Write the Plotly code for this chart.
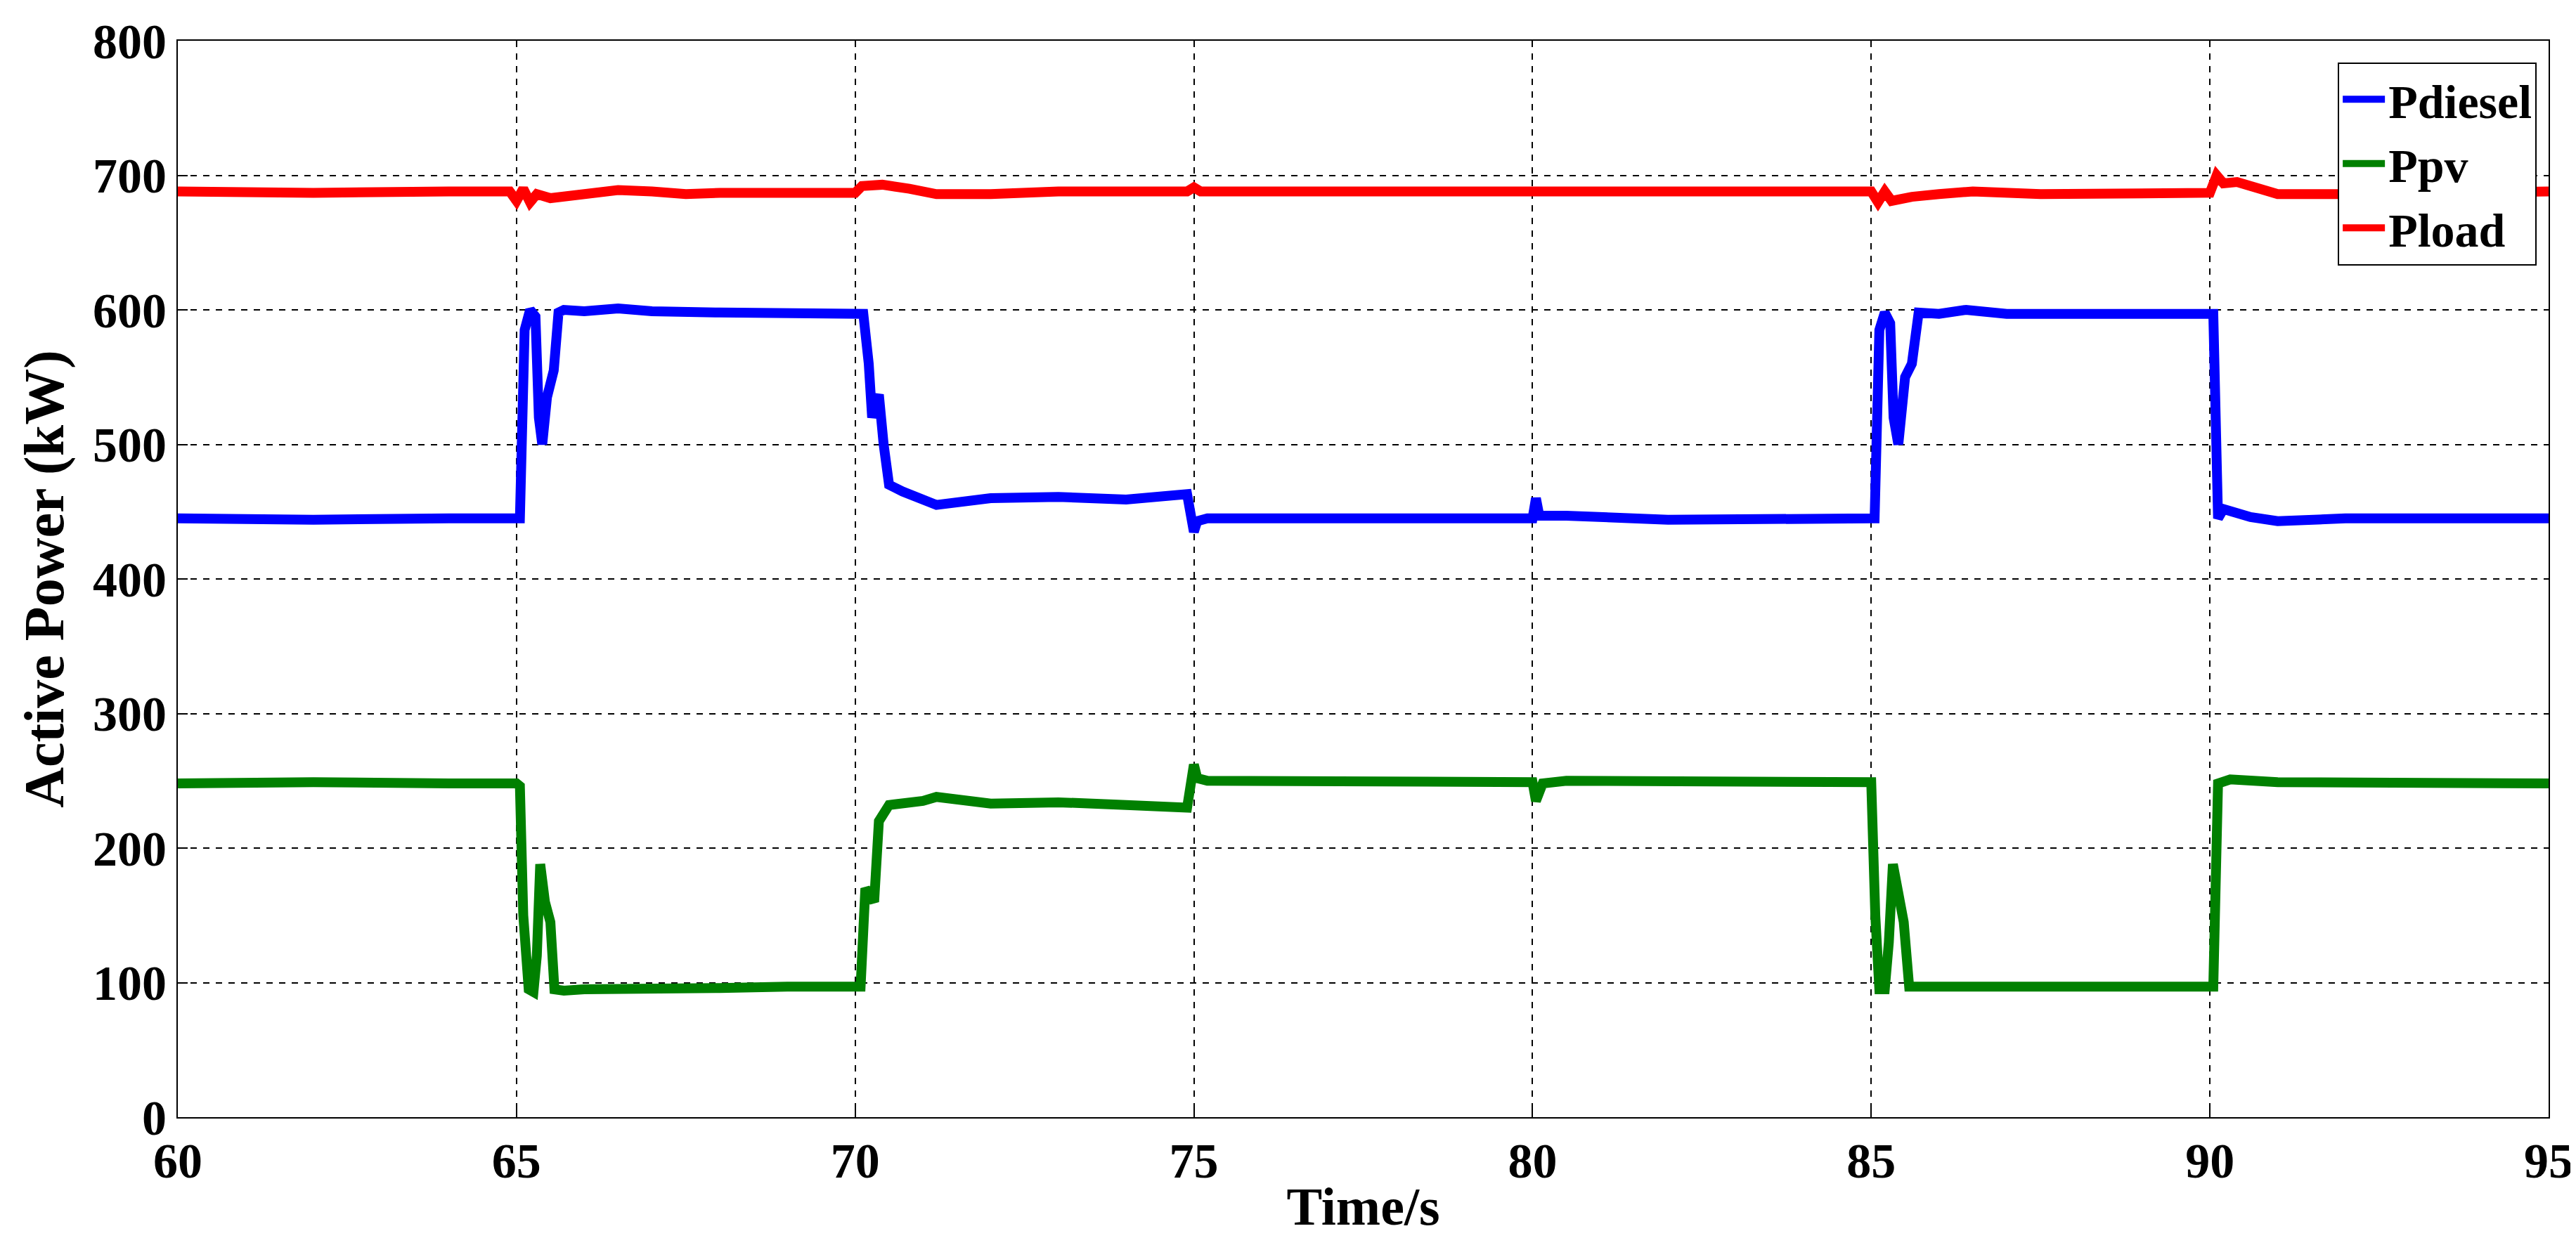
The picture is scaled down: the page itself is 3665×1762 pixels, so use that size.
import plotly.graph_objects as go

# (time in s, power in kW)
t_load = [60, 62, 64, 64.9, 65.0, 65.1, 65.2, 65.3, 65.5, 66.0, 66.5, 67.0, 67.5, 68.0, 70.0,
          70.1, 70.4, 70.8, 71.2, 72.0, 73.0, 74.9, 75.0, 75.1, 78.0, 80.0, 82.0, 85.0,
          85.1, 85.2, 85.3, 85.6, 86.0, 86.5, 87.5, 88.0, 90.0, 90.1, 90.2, 90.4, 90.7,
          91.0, 92.0, 95.0]
p_load = [688, 687, 688, 688, 681, 690, 680, 686, 683, 686, 689, 688, 686, 687, 687,
          692, 693, 690, 686, 686, 688, 688, 691, 688, 688, 688, 688, 688,
          680, 688, 681, 684, 686, 688, 686, 686, 687, 700, 694, 695, 691,
          686, 686, 688]

t_diesel = [60, 62, 64, 65.0, 65.05, 65.12, 65.2, 65.28, 65.33, 65.38, 65.45, 65.55, 65.62,
            65.7, 66.0, 66.5, 67.0, 68.0, 69.0, 70.05, 70.12, 70.2, 70.25, 70.3, 70.35,
            70.42, 70.5, 70.7, 71.0, 71.2, 72.0, 73.0, 74.0, 74.9, 75.0, 75.05, 75.2,
            77.0, 80.0, 80.05, 80.1, 80.5, 82.0, 85.0, 85.05, 85.12, 85.2, 85.28, 85.33,
            85.4, 85.5, 85.6, 85.7, 86.0, 86.4, 87.0, 88.0, 90.0, 90.05, 90.12, 90.2,
            90.6, 91.0, 92.0, 95.0]
p_diesel = [445, 444, 445, 445, 445, 585, 600, 595, 520, 500, 535, 555, 598,
            600, 599, 601, 599, 598, 598, 597, 597, 560, 520, 530, 537,
            500, 470, 465, 460, 455, 460, 461, 459, 463, 435, 443, 445,
            445, 445, 460, 447, 447, 444, 445, 445, 585, 598, 590, 520,
            500, 550, 560, 598, 597, 600, 597, 597, 597, 597, 445, 452,
            446, 443, 445, 445]

t_pv = [60, 62, 64, 65.0, 65.05, 65.1, 65.18, 65.25, 65.3, 65.35, 65.42, 65.5, 65.56,
        65.7, 66.0, 67.0, 68.0, 69.0, 70.0, 70.08, 70.15, 70.22, 70.28, 70.35, 70.5,
        71.0, 71.2, 72.0, 73.0, 74.0, 74.9, 75.0, 75.05, 75.2, 77.0, 80.0, 80.05,
        80.15, 80.5, 82.0, 85.0, 85.06, 85.12, 85.2, 85.26, 85.32, 85.4, 85.48, 85.56,
        86.0, 87.0, 88.0, 90.0, 90.05, 90.12, 90.3, 91.0, 95.0]
p_pv = [248, 249, 248, 248, 246, 150, 95, 93, 120, 188, 160, 145, 95,
        94, 95, 95, 96, 97, 97, 97, 170, 165, 160, 220, 232,
        235, 238, 233, 234, 232, 230, 262, 252, 250, 249, 249, 235,
        248, 250, 250, 249, 150, 95, 95, 130, 188, 165, 145, 97,
        97, 96, 96, 97, 97, 248, 251, 249, 248]

x_ticks = [60, 65, 70, 75, 80, 85, 90, 95]
y_ticks = [0, 100, 200, 300, 400, 500, 600, 700, 800]

font_family = "Liberation Serif"

fig = go.Figure()
fig.add_trace(go.Scatter(x=t_diesel, y=p_diesel, mode='lines', name='<b>Pdiesel</b>',
                         line=dict(color='#0000ff', width=14)))
fig.add_trace(go.Scatter(x=t_pv, y=p_pv, mode='lines', name='<b>Ppv</b>',
                         line=dict(color='#008000', width=14)))
fig.add_trace(go.Scatter(x=t_load, y=p_load, mode='lines', name='<b>Pload</b>',
                         line=dict(color='#ff0000', width=14)))

axis_common = dict(
    showline=True, linecolor='black', linewidth=2, mirror=True,
    ticks='inside', ticklen=14, tickwidth=2, tickcolor='black',
    showgrid=True, gridcolor='black', gridwidth=1.5, griddash='dash',
    zeroline=False,
    tickfont=dict(family=font_family, size=70, color='black'),
)

fig.update_layout(
    width=3665, height=1762,
    paper_bgcolor='white', plot_bgcolor='white',
    margin=dict(l=245, r=40, t=40, b=180),
    font=dict(family=font_family, color='black'),
    xaxis=dict(range=[60, 95], tickvals=x_ticks,
               ticktext=[f'<b>{v}</b>' for v in x_ticks],
               title=dict(text='<b>Time/s</b>', font=dict(size=76), standoff=0),
               **axis_common),
    yaxis=dict(range=[0, 800], tickvals=y_ticks,
               ticktext=[f'<b>{v}</b>' for v in y_ticks],
               title=dict(text='<b>Active Power (kW)</b>', font=dict(size=80), standoff=15),
               **axis_common),
    legend=dict(x=0.995, y=0.98, xanchor='right', yanchor='top',
                bgcolor='white', bordercolor='black', borderwidth=2,
                font=dict(family=font_family, size=68, color='black'),
                tracegroupgap=0, itemwidth=60),
    showlegend=True,
)

fig.write_html("out.html")
